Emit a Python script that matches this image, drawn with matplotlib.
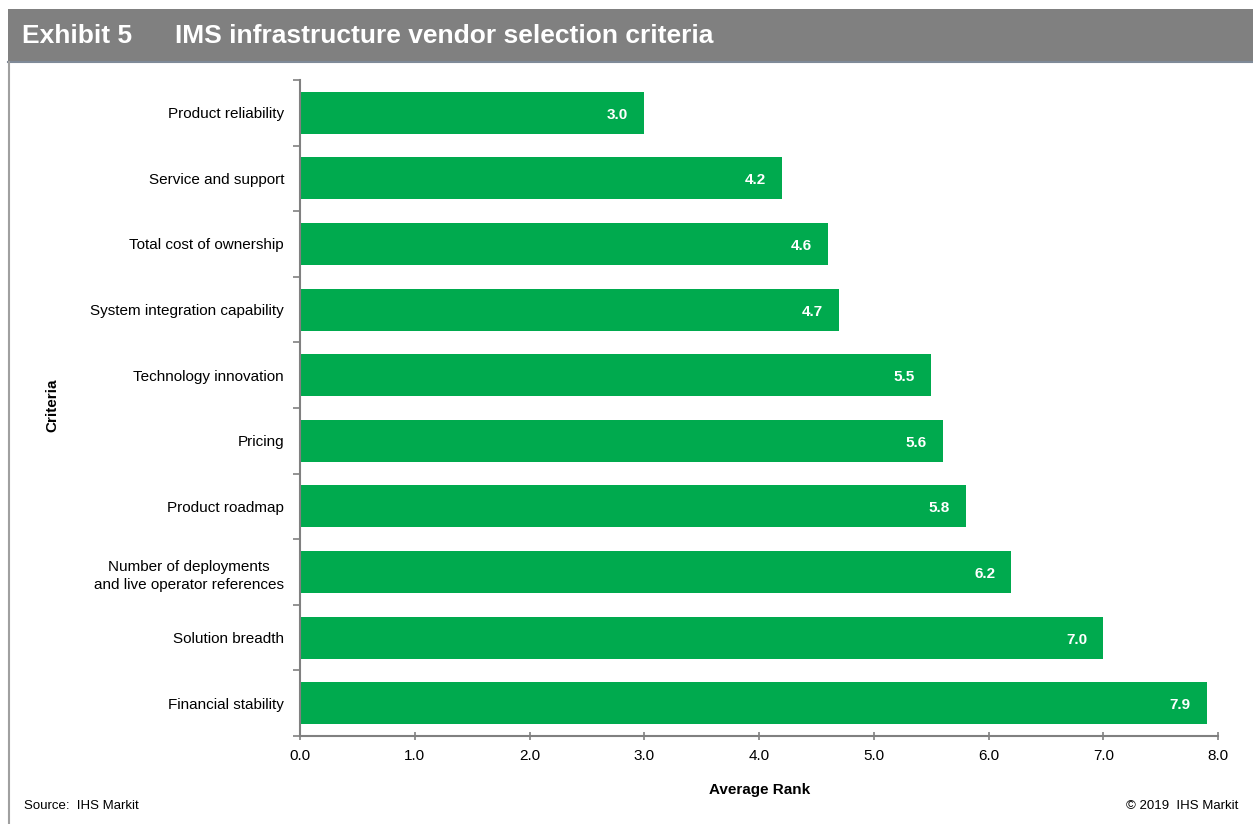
import matplotlib.pyplot as plt
from matplotlib.patches import Rectangle
from matplotlib.lines import Line2D
import numpy as np

plt.rcParams['font.family'] = ['Liberation Sans', 'DejaVu Sans']

# Datos del gráfico
criteria = [
    "Product reliability",
    "Service and support",
    "Total cost of ownership",
    "System integration capability",
    "Technology innovation",
    "Pricing",
    "Product roadmap",
    "Number of deployments\nand live operator references",
    "Solution breadth",
    "Financial stability",
]
avg_rank = [3.0, 4.2, 4.6, 4.7, 5.5, 5.6, 5.8, 6.2, 7.0, 7.9]
x_ticks = [0.0, 1.0, 2.0, 3.0, 4.0, 5.0, 6.0, 7.0, 8.0]

green = "#00AA4E"
grey = "#808080"
W, H = 1253, 824

fig = plt.figure(figsize=(W / 100, H / 100), dpi=100, facecolor="white")

# Banda del título
fig.patches.append(Rectangle((8 / W, 1 - 62 / H), 1 - 8 / W, 53 / H,
                             transform=fig.transFigure, facecolor=grey,
                             edgecolor="none", zorder=0))
fig.lines.append(Line2D([8 / W, 1], [1 - 61.5 / H, 1 - 61.5 / H],
                        transform=fig.transFigure, color="#7F8A98", lw=1.5))
fig.lines.append(Line2D([8.5 / W, 8.5 / W], [0, 1 - 62 / H],
                        transform=fig.transFigure, color="#A0A0A0", lw=1.5))
fig.text(22 / W, 1 - 36 / H, "Exhibit 5", color="white", fontsize=19,
         fontweight="bold", va="center", ha="left")
fig.text(175 / W, 1 - 36 / H, "IMS infrastructure vendor selection criteria",
         color="white", fontsize=19, fontweight="bold", va="center", ha="left")

ax = fig.add_axes([300 / W, 1 - 736 / H, 918 / W, 656 / H])

pos = np.arange(len(criteria))
ax.barh(pos, avg_rank, height=0.64, color=green, zorder=2)
for p, v in zip(pos, avg_rank):
    ax.annotate(f"{v:.1f}", xy=(v, p), xytext=(-11.5, -1.5),
                textcoords="offset points", ha="right", va="center",
                color="white", fontsize=11, fontweight="bold")

ax.set_xlim(0, 8)
ax.set_ylim(len(criteria) - 0.5, -0.5)
ax.set_xticks(x_ticks)
ax.set_xticklabels([f"{t:.1f}" for t in x_ticks], fontsize=11)
ax.set_yticks(pos)
ax.set_yticklabels(criteria, fontsize=11, linespacing=1.4)
ax.set_yticks(np.arange(-0.5, len(criteria), 1.0), minor=True)

ax.tick_params(axis="y", which="major", length=0, pad=11.5)
ax.tick_params(axis="y", which="minor", length=5, width=1.2, color=grey,
               direction="out")
ax.tick_params(axis="x", which="major", length=6, width=1.2, color=grey,
               direction="inout", pad=6)
for lbl in ax.get_yticklabels():
    lbl.set_multialignment("center")

for s in ["top", "right"]:
    ax.spines[s].set_visible(False)
for s in ["left", "bottom"]:
    ax.spines[s].set_color(grey)
    ax.spines[s].set_linewidth(1.5)

fig.text(52 / W, 1 - 405 / H, "Criteria", rotation=90, fontsize=11,
         fontweight="bold", ha="center", va="center")
fig.text(760 / W, 1 - 790 / H, "Average Rank", fontsize=11,
         fontweight="bold", ha="center", va="center")

fig.text(24 / W, 1 - 806 / H, "Source:  IHS Markit", fontsize=9.5,
         ha="left", va="center")
fig.text(1238 / W, 1 - 806 / H, "\u00a9 2019  IHS Markit", fontsize=9.5,
         ha="right", va="center")

fig.savefig("out.png", dpi=100, facecolor="white")
